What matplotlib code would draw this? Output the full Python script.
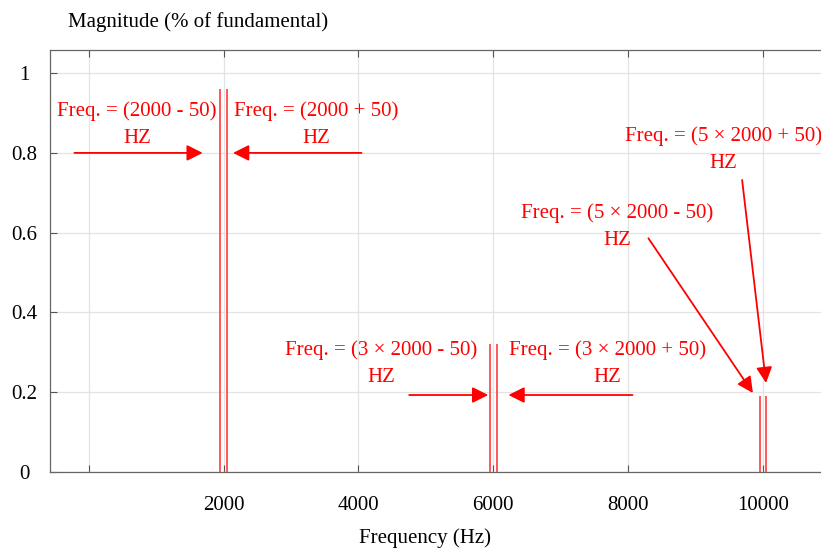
import matplotlib
matplotlib.use("Agg")
import matplotlib.pyplot as plt

freqs = [1950, 2050, 5950, 6050, 9950, 10050]
mags = [0.96, 0.96, 0.32, 0.32, 0.19, 0.19]
xticks = [0, 2000, 4000, 6000, 8000, 10000]
xtick_labels = ["", "2000", "4000", "6000", "8000", "10000"]
yticks = [0, 0.2, 0.4, 0.6, 0.8, 1.0]
ytick_labels = ["0", "0.2", "0.4", "0.6", "0.8", "1"]

annotations = [
    # text, text position, arrow tail, arrow head
    ("Freq. = (2000 - 50)\nHZ", (718, 0.871), (-213, 0.8), (1690, 0.8)),
    ("Freq. = (2000 + 50)\nHZ", (3377, 0.871), (4044, 0.8), (2140, 0.8)),
    ("Freq. = (3 × 2000 - 50)\nHZ", (4340, 0.271), (4752, 0.193), (5925, 0.193)),
    ("Freq. = (3 × 2000 + 50)\nHZ", (7694, 0.271), (8065, 0.193), (6225, 0.193)),
    ("Freq. = (5 × 2000 + 50)\nHZ", (9410, 0.809), (9690, 0.732), (10045, 0.223)),
    ("Freq. = (5 × 2000 - 50)\nHZ", (7843, 0.616), (8300, 0.586), (9850, 0.198)),
]

plt.rcParams['font.family'] = ['Liberation Serif', 'DejaVu Serif']

fig = plt.figure(figsize=(8.21, 5.48), dpi=100)
ax = fig.add_axes([50 / 821, (548 - 472) / 548, 1 - 50 / 821, (472 - 50) / 548])

ax.vlines(freqs, 0, mags, colors=(1.0, 0.35, 0.35), linewidth=1.4, zorder=3)

ax.set_xlim(-575, 10860)
ax.set_ylim(0, 1.058)
ax.set_xticks(xticks)
ax.set_xticklabels(xtick_labels)
ax.set_yticks(yticks)
ax.set_yticklabels(ytick_labels)
for lab in ax.get_yticklabels():
    lab.set_horizontalalignment('center')
ax.grid(True, color='#e3e3e3', linewidth=0.9)
ax.set_axisbelow(True)

ax.tick_params(axis='both', direction='in', length=5, color='#555555',
               labelsize=15, top=True, right=False)
ax.tick_params(axis='x', pad=17)
ax.tick_params(axis='y', pad=18.7)
for s in ['left', 'bottom', 'top']:
    ax.spines[s].set_color('#666666')
    ax.spines[s].set_linewidth(0.9)
ax.spines['right'].set_visible(False)

ax.set_xlabel("Frequency (Hz)", fontsize=15)
ax.xaxis.set_label_coords((425 - 50) / 771, (472 - 528) / 422)
fig.text(68 / 821, 1 - 22 / 548, "Magnitude (% of fundamental)", fontsize=15,
         ha='left', va='center')

for txt, tpos, tail, head in annotations:
    ax.text(tpos[0], tpos[1], txt, color='red', fontsize=15, ha='center',
            va='center', linespacing=1.55, zorder=5)
    ax.annotate("", xy=head, xytext=tail,
                arrowprops=dict(arrowstyle='-|>', color='red', lw=1.3,
                                mutation_scale=24, shrinkA=0, shrinkB=0),
                zorder=5)

fig.savefig("out.png", dpi=100)
